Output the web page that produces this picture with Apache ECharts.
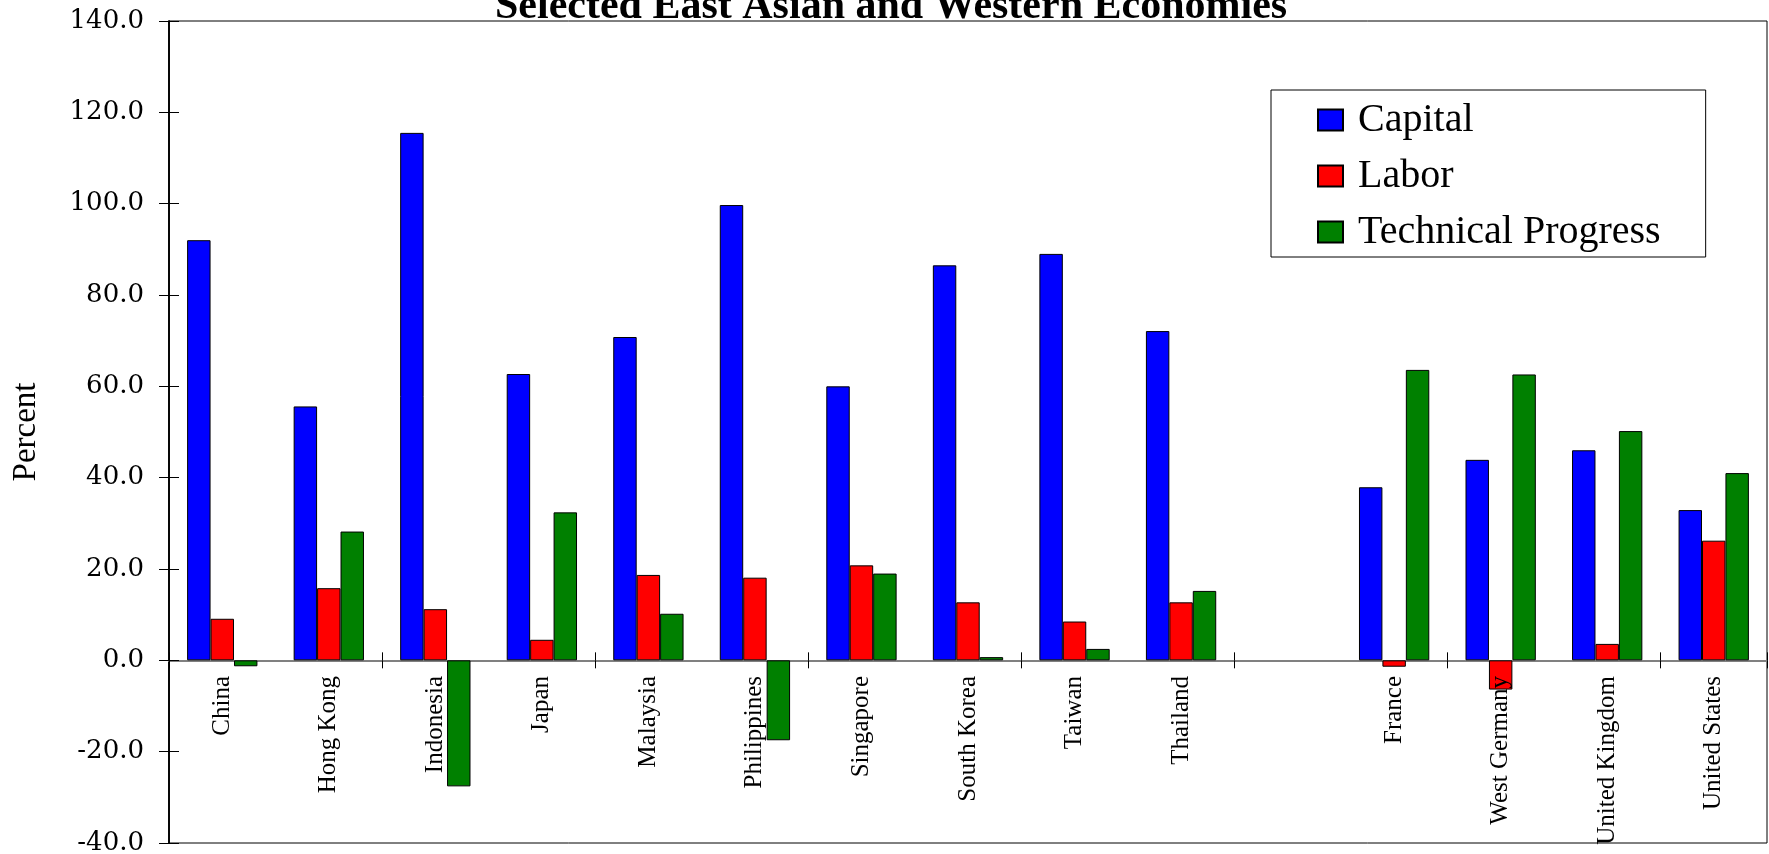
<!DOCTYPE html>
<html>
<head>
<meta charset="utf-8">
<script src="https://cdn.jsdelivr.net/npm/echarts@6/dist/echarts.min.js"></script>
<style>
  html, body { margin: 0; padding: 0; background: #fff; }
  #chart { width: 1769px; height: 854px; }
</style>
</head>
<body>
<div id="chart"></div>
<script>
const titleText = 'Selected East Asian and Western Economies';
const categories = ['China', 'Hong Kong', 'Indonesia', 'Japan', 'Malaysia', 'Philippines', 'Singapore', 'South Korea', 'Taiwan', 'Thailand', '', 'France', 'West Germany', 'United Kingdom', 'United States'];
const capital = [92.0, 55.6, 115.5, 62.7, 70.8, 99.7, 60.0, 86.5, 89.0, 72.1, null, 37.9, 43.9, 46.0, 32.9];
const labor = [9.1, 15.8, 11.2, 4.5, 18.7, 18.1, 20.8, 12.7, 8.5, 12.7, null, -1.4, -6.4, 3.6, 26.2];
const technical = [-1.3, 28.2, -27.6, 32.4, 10.2, -17.5, 19.0, 0.7, 2.5, 15.2, null, 63.6, 62.6, 50.2, 41.0];
const seriesNames = ['Capital', 'Labor', 'Technical Progress'];
const seriesColors = ['#0000FF', '#FF0000', '#008000'];
const yMin = -40, yMax = 140, yStep = 20;

const chart = echarts.init(document.getElementById('chart'), null, { renderer: 'canvas' });
const values = [capital, labor, technical];
const serif = "'Liberation Serif', 'Times New Roman', serif";

const option = {
  backgroundColor: '#ffffff',
  animation: false,
  title: {
    text: titleText,
    left: 495,
    top: -14,
    padding: 0,
    textStyle: { fontFamily: serif, fontWeight: 'bold', fontSize: 42, color: '#000' }
  },
  legend: {
    orient: 'vertical',
    left: 1271,
    top: 90,
    padding: [10, 45, 5, 46],
    itemGap: 16,
    itemWidth: 25,
    itemHeight: 21,
    backgroundColor: '#fff',
    borderColor: '#000',
    borderWidth: 1,
    icon: 'rect',
    data: seriesNames,
    textStyle: { fontFamily: serif, fontSize: 40, lineHeight: 40, color: '#000', padding: [0, 0, 0, 10] }
  },
  grid: {
    left: 169, right: 2, top: 21, bottom: 11,
    containLabel: false,
    outerBoundsMode: 'none',
    show: true, borderColor: '#000', borderWidth: 1, backgroundColor: 'transparent'
  },
  xAxis: [
    {
      // category labels, anchored just below the zero line
      type: 'category',
      data: categories,
      position: 'bottom',
      z: 10,
      axisLine: { show: false, onZero: false },
      axisTick: { show: false },
      axisLabel: { show: true, rotate: 90, margin: -167, fontFamily: serif, fontSize: 25, color: '#000', interval: 0 },
      splitLine: { show: false }
    },
    {
      // zero line with downward ticks at category boundaries
      type: 'category',
      data: categories,
      position: 'bottom',
      axisLine: { show: true, onZero: true, onZeroAxisIndex: 0, lineStyle: { color: '#808080', width: 2 } },
      axisTick: { show: true, alignWithLabel: false, length: 8, lineStyle: { color: '#000', width: 1 } },
      axisLabel: { show: false },
      splitLine: { show: false }
    },
    {
      // upward half of the crossing ticks
      type: 'category',
      data: categories,
      position: 'bottom',
      axisLine: { show: false, onZero: true, onZeroAxisIndex: 0 },
      axisTick: { show: true, inside: true, alignWithLabel: false, length: 8, lineStyle: { color: '#000', width: 1 } },
      axisLabel: { show: false },
      splitLine: { show: false }
    }
  ],
  yAxis: [
    {
      type: 'value',
      min: yMin, max: yMax, interval: yStep,
      position: 'left',
      name: 'Percent',
      nameLocation: 'middle',
      nameRotate: 90,
      nameGap: 126,
      nameTextStyle: { fontFamily: serif, fontSize: 33, color: '#000' },
      axisLine: { show: true, lineStyle: { color: '#000', width: 1.5 } },
      axisTick: { show: true, length: 10, lineStyle: { color: '#000', width: 1 } },
      axisLabel: {
        margin: 25,
        fontFamily: "'DejaVu Serif', serif",
        fontSize: 26,
        color: '#000',
        formatter: v => v.toFixed(1)
      },
      splitLine: { show: false }
    },
    {
      type: 'value',
      min: yMin, max: yMax, interval: yStep,
      position: 'left',
      axisLine: { show: true, lineStyle: { color: '#000', width: 1.5 } },
      axisTick: { show: true, inside: true, length: 10, lineStyle: { color: '#000', width: 1 } },
      axisLabel: { show: false },
      splitLine: { show: false }
    }
  ],
  series: seriesNames.map((name, i) => ({
    name: name,
    type: 'bar',
    xAxisIndex: 0,
    yAxisIndex: 0,
    data: values[i],
    barWidth: '22%',
    barGap: '0%',
    itemStyle: { color: seriesColors[i], borderColor: '#000', borderWidth: 1 }
  }))
};
chart.setOption(option);
</script>
</body>
</html>
